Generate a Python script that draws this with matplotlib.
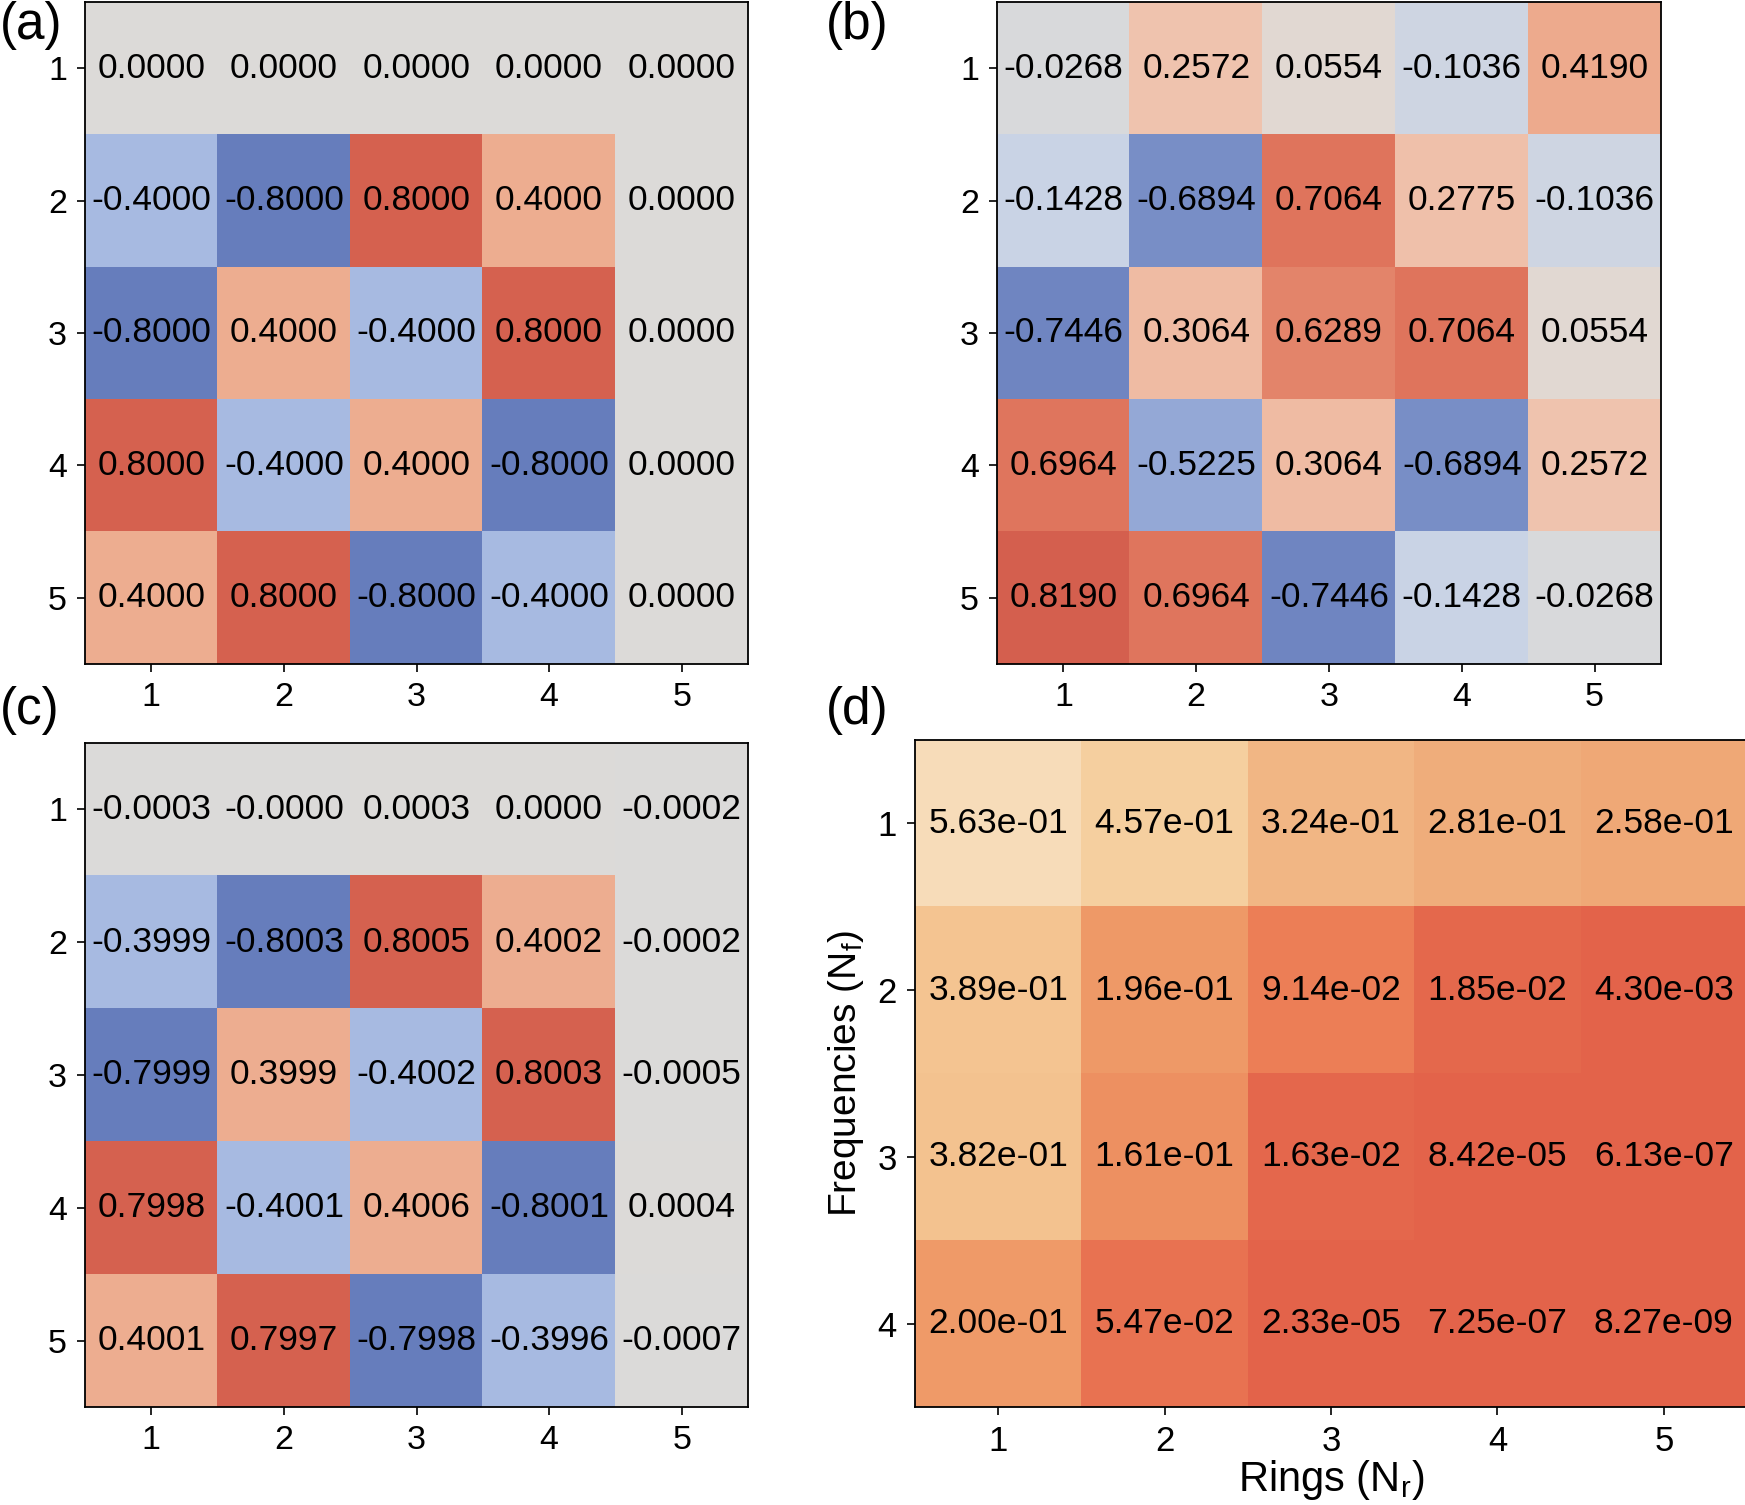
import numpy as np
import matplotlib
matplotlib.use('Agg')
import matplotlib.pyplot as plt
from matplotlib.colors import LinearSegmentedColormap, Normalize

plt.rcParams['font.family'] = ['Liberation Sans', 'DejaVu Sans']
plt.rcParams['mathtext.default'] = 'regular'

# data (rows = 1..5 top to bottom, cols = 1..5)
panel_a = [[0.0, 0.0, 0.0, 0.0, 0.0],
           [-0.4, -0.8, 0.8, 0.4, 0.0],
           [-0.8, 0.4, -0.4, 0.8, 0.0],
           [0.8, -0.4, 0.4, -0.8, 0.0],
           [0.4, 0.8, -0.8, -0.4, 0.0]]

panel_b = [[-0.0268, 0.2572, 0.0554, -0.1036, 0.4190],
           [-0.1428, -0.6894, 0.7064, 0.2775, -0.1036],
           [-0.7446, 0.3064, 0.6289, 0.7064, 0.0554],
           [0.6964, -0.5225, 0.3064, -0.6894, 0.2572],
           [0.8190, 0.6964, -0.7446, -0.1428, -0.0268]]

panel_c = [[-0.0003, -0.00001, 0.0003, 0.0, -0.0002],
           [-0.3999, -0.8003, 0.8005, 0.4002, -0.0002],
           [-0.7999, 0.3999, -0.4002, 0.8003, -0.0005],
           [0.7998, -0.4001, 0.4006, -0.8001, 0.0004],
           [0.4001, 0.7997, -0.7998, -0.3996, -0.0007]]

# (d) error vs rings (cols) and frequencies (rows)
panel_d = [[5.63e-01, 4.57e-01, 3.24e-01, 2.81e-01, 2.58e-01],
           [3.89e-01, 1.96e-01, 9.14e-02, 1.85e-02, 4.30e-03],
           [3.82e-01, 1.61e-01, 1.63e-02, 8.42e-05, 6.13e-07],
           [2.00e-01, 5.47e-02, 2.33e-05, 7.25e-07, 8.27e-09]]

rings = [1, 2, 3, 4, 5]
freqs = [1, 2, 3, 4]

# colormaps
cw = LinearSegmentedColormap.from_list('cw', [
    (0.0, '#5068b0'), (0.1, '#677ebd'), (0.3, '#a8bbe2'), (0.43, '#cad4e6'),
    (0.5, '#dcdbd9'), (0.53, '#e2d8d2'), (0.63, '#f0c3ae'), (0.7, '#eeae91'),
    (0.81, '#e4876c'), (0.85, '#e0765e'), (0.9, '#d66250'), (1.0, '#c84a3e')])
orng = LinearSegmentedColormap.from_list('orng', [
    (0.0, '#e3634a'), (0.16, '#ec7e56'), (0.35, '#ef9a68'), (0.5, '#efae7c'),
    (0.69, '#f4c491'), (0.81, '#f5cf9f'), (1.0, '#f7dcb9')])

W, H = 1745, 1505
fig = plt.figure(figsize=(W/100, H/100), dpi=100)

def px_axes(x0, y0, x1, y1):
    return fig.add_axes([x0/W, 1 - y1/H, (x1-x0)/W, (y1-y0)/H])

def style(ax, fs):
    for s in ax.spines.values():
        s.set_linewidth(1.3)
    ax.tick_params(length=6, width=1.2, labelsize=fs, pad=7)

def corr_panel(ax, data, fmt):
    d = np.array(data)
    ax.imshow(d, cmap=cw, norm=Normalize(-1, 1), aspect='auto')
    for i in range(d.shape[0]):
        for j in range(d.shape[1]):
            ax.text(j, i, fmt.format(d[i, j]), ha='center', va='center', fontsize=25.5)
    ax.set_xticks(range(5))
    ax.set_xticklabels(rings)
    ax.set_yticks(range(5))
    ax.set_yticklabels([1, 2, 3, 4, 5])
    style(ax, 24.5)

ax_a = px_axes(85, 2, 748, 664)
corr_panel(ax_a, panel_a, '{:.4f}')
ax_b = px_axes(997, 2, 1661, 664)
corr_panel(ax_b, panel_b, '{:.4f}')
ax_c = px_axes(85, 743, 748, 1407)
corr_panel(ax_c, panel_c, '{:.4f}')

ax_d = px_axes(915, 740, 1747, 1407)
dd = np.array(panel_d)
ax_d.imshow(dd, cmap=orng, norm=Normalize(0, dd.max()), aspect='auto')
for i in range(dd.shape[0]):
    for j in range(dd.shape[1]):
        ax_d.text(j, i, '{:.2e}'.format(dd[i, j]), ha='center', va='center', fontsize=25.5)
ax_d.set_xticks(range(5))
ax_d.set_xticklabels(rings)
ax_d.set_yticks(range(4))
ax_d.set_yticklabels(freqs)
style(ax_d, 25)
ax_d.set_xlabel('Rings (N$_r$)', fontsize=30, labelpad=0)
ax_d.set_ylabel('Frequencies (N$_f$)', fontsize=28, labelpad=8)

for lbl, x, y in [('(a)', 0, 1), ('(b)', 826, 1), ('(c)', 0, 686), ('(d)', 826, 686)]:
    fig.text(x/W, 1 - y/H, lbl, fontsize=37, ha='left', va='top')

fig.savefig('out.png', dpi=100)
